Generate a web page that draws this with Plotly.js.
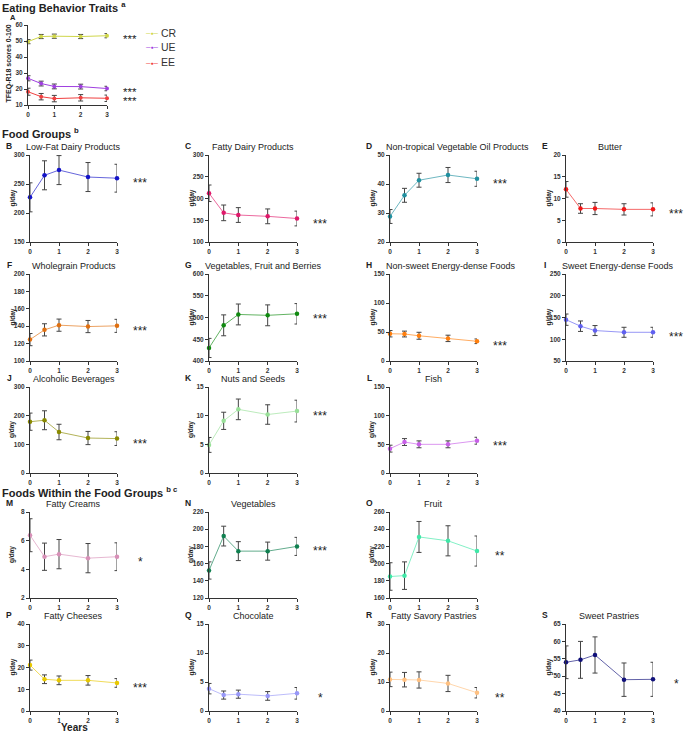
<!DOCTYPE html>
<html><head><meta charset="utf-8">
<script src="https://cdn.plot.ly/plotly-3.0.1.min.js"></script>
<style>html,body{margin:0;padding:0;background:#fff}</style>
</head><body><div id="chart" style="width:685px;height:733px"></div>
<script>
// ---------- DATA ----------
const years = [0, 0.5, 1, 2, 3];
const yearTicks = [0, 1, 2, 3];

// A: Eating behavior traits (TFEQ-R18 scores 0-100)
const traitNames = ['CR', 'UE', 'EE'];
const crMean = [49.6, 52.8, 53.0, 52.8, 53.3];
const crErr  = [1.3, 1.3, 1.3, 1.3, 1.3];
const ueMean = [26.7, 23.4, 21.6, 21.5, 20.3];
const ueErr  = [1.6, 1.5, 1.5, 1.5, 1.4];
const eeMean = [18.3, 15.2, 14.0, 14.5, 14.2];
const eeErr  = [2.2, 2.0, 2.0, 2.0, 2.0];

// Food groups (g/day)
const lowFatDairy = [227, 265, 274, 262, 260];
const lowFatDairyErr = [25, 25, 25, 25, 24];
const fattyDairy = [212, 167, 162, 159, 154];
const fattyDairyErr = [19, 18, 17, 17, 17];
const vegOil = [28.8, 36.1, 41.3, 43.1, 41.8];
const vegOilErr = [2.4, 2.4, 2.4, 2.6, 2.6];
const butter = [12.1, 7.7, 7.7, 7.5, 7.5];
const butterErr = [1.8, 1.1, 1.4, 1.3, 1.5];
const wholegrain = [124.6, 135.8, 141.2, 139.6, 140.4];
const wholegrainErr = [7, 7, 7, 7, 7.5];
const vegFruitBerries = [430, 482, 507, 505, 508.5];
const vegFruitBerriesErr = [22, 24, 24, 24, 23.5];
const nonSweetEnergy = [47, 46.5, 43.5, 39, 34];
const nonSweetEnergyErr = [5.5, 5, 6, 5.5, 4];
const sweetEnergy = [145, 130, 120, 116, 116];
const sweetEnergyErr = [13, 12, 11.5, 11.5, 11.5];
const alcohol = [179, 184, 143, 122, 120];
const alcoholErr = [30, 33, 27, 23, 24];
const nutsSeeds = [4.9, 9.1, 11.1, 10.2, 10.8];
const nutsSeedsErr = [1.3, 1.5, 1.8, 1.7, 1.9];
const fish = [42.5, 54, 50, 50, 56.3];
const fishErr = [6, 6, 6, 6, 6];

// Foods within the food groups (g/day)
const fattyCreams = [6.38, 4.88, 5.06, 4.78, 4.88];
const fattyCreamsErr = [1.15, 0.95, 1.02, 1.02, 0.97];
const vegetables = [152, 192, 174.5, 174.5, 180];
const vegetablesErr = [10, 11.5, 11, 10.5, 10.5];
const fruit = [185, 186, 231, 226.5, 214.6];
const fruitErr = [16, 16, 18, 17.5, 17.5];
const fattyCheeses = [21.1, 14.6, 14.1, 14.1, 12.9];
const fattyCheesesErr = [2.3, 2, 2, 2.2, 2];
const chocolate = [3.85, 2.75, 2.9, 2.6, 3.05];
const chocolateErr = [0.9, 0.7, 0.7, 0.75, 1.0];
const savoryPastries = [10.9, 10.8, 10.7, 9.5, 6.3];
const savoryPastriesErr = [2.5, 2.5, 2.8, 2.8, 1.8];
const sweetPastries = [54, 54.7, 56.1, 49, 49.1];
const sweetPastriesErr = [4.7, 5.3, 5.2, 4.8, 4.9];

// ---------- LAYOUT HELPERS ----------
const W = 685, H = 733;
const px = v => v / W;
const py = v => 1 - v / H;
const FONT = '"Liberation Sans", Arial, sans-serif';
const cols = [[30,117],[209,297],[390,477],[566,653]];
const rows = [[155,242],[274,361],[387,473],[512,598],[624,711]];

const panels = [
  {L:'B', t:'Low-Fat Dairy Products', y:lowFatDairy, e:lowFatDairyErr, c:'#1414c8', r:[150,300], d:50, s:'***', col:0, row:0},
  {L:'C', t:'Fatty Dairy Products', y:fattyDairy, e:fattyDairyErr, c:'#e0186a', r:[100,300], d:50, s:'***', col:1, row:0},
  {L:'D', t:'Non-tropical Vegetable Oil Products', y:vegOil, e:vegOilErr, c:'#2090a0', r:[20,50], d:10, s:'***', col:2, row:0},
  {L:'E', t:'Butter', y:butter, e:butterErr, c:'#f01818', r:[0,20], d:5, s:'***', col:3, row:0},
  {L:'F', t:'Wholegrain Products', y:wholegrain, e:wholegrainErr, c:'#e07010', r:[100,200], d:20, s:'***', col:0, row:1},
  {L:'G', t:'Vegetables, Fruit and Berries', y:vegFruitBerries, e:vegFruitBerriesErr, c:'#108a10', r:[400,600], d:50, s:'***', col:1, row:1},
  {L:'H', t:'Non-sweet Energy-dense Foods', y:nonSweetEnergy, e:nonSweetEnergyErr, c:'#ff7f0e', r:[0,150], d:50, s:'***', col:2, row:1},
  {L:'I', t:'Sweet Energy-dense Foods', y:sweetEnergy, e:sweetEnergyErr, c:'#6060f0', r:[50,250], d:50, s:'***', col:3, row:1},
  {L:'J', t:'Alcoholic Beverages', y:alcohol, e:alcoholErr, c:'#8a8a00', r:[0,300], d:100, s:'***', col:0, row:2},
  {L:'K', t:'Nuts and Seeds', y:nutsSeeds, e:nutsSeedsErr, c:'#98e098', r:[0,15], d:5, s:'***', col:1, row:2},
  {L:'L', t:'Fish', y:fish, e:fishErr, c:'#c860e8', r:[0,150], d:50, s:'***', col:2, row:2},
  {L:'M', t:'Fatty Creams', y:fattyCreams, e:fattyCreamsErr, c:'#d890b8', r:[2,8], d:2, s:'*', col:0, row:3},
  {L:'N', t:'Vegetables', y:vegetables, e:vegetablesErr, c:'#108050', r:[120,220], d:20, s:'***', col:1, row:3},
  {L:'O', t:'Fruit', y:fruit, e:fruitErr, c:'#40e8a8', r:[160,260], d:20, s:'**', col:2, row:3},
  {L:'P', t:'Fatty Cheeses', y:fattyCheeses, e:fattyCheesesErr, c:'#e8c800', r:[0,40], d:10, s:'***', col:0, row:4},
  {L:'Q', t:'Chocolate', y:chocolate, e:chocolateErr, c:'#9898f8', r:[0,15], d:5, s:'*', col:1, row:4},
  {L:'R', t:'Fatty Savory Pastries', y:savoryPastries, e:savoryPastriesErr, c:'#ffc080', r:[0,30], d:10, s:'**', col:2, row:4},
  {L:'S', t:'Sweet Pastries', y:sweetPastries, e:sweetPastriesErr, c:'#10107a', r:[40,65], d:5, s:'*', col:3, row:4}
];

const ctx = document.createElement('canvas').getContext('2d');
ctx.font = '9px "Liberation Sans"';
function titleCenter(l, r, text) {
  const w = ctx.measureText(text).width;
  return Math.max((l + r) / 2, l - 4 + w / 2);
}
function soft(hex, a) {
  const v = parseInt(hex.slice(1), 16);
  return 'rgba(' + ((v >> 16) & 255) + ',' + ((v >> 8) & 255) + ',' + (v & 255) + ',' + a + ')';
}

function axisPair(n, l, r, t, b, yr, dtick) {
  const tickfont = {family: FONT, size: 6.5, color: '#333', weight: 'bold'};
  const common = {ticks:'outside', ticklen:3, tickwidth:1, tickcolor:'#333', showline:true,
    linecolor:'#333', linewidth:1, showgrid:false, zeroline:false, tickfont, fixedrange:true};
  const sx = n === 1 ? '' : String(n);
  return {
    ['xaxis' + sx]: Object.assign({}, common, {domain:[px(l), px(r)], range:[0,3], tickvals:yearTicks,
      anchor:'y' + sx}),
    ['yaxis' + sx]: Object.assign({}, common, {domain:[py(b), py(t)], range:yr, tick0:yr[0], dtick:dtick,
      anchor:'x' + sx})
  };
}

const traces = [];
const annotations = [];
function note(o) {
  annotations.push(Object.assign({xref:'paper', yref:'paper', showarrow:false, xanchor:'center', yanchor:'middle'}, o));
}
const layout = {
  width: W, height: H, margin: {l:0, r:0, t:0, b:0},
  paper_bgcolor: '#fff', plot_bgcolor: '#fff',
  font: {family: FONT, color: '#222'},
  showlegend: false,
  annotations: annotations
};

function errSpec(arr) {
  return {type:'data', array:arr, visible:true, color:'#444', thickness:1, width:2.5};
}

// Panel A
Object.assign(layout, axisPair(1, 28, 107, 25, 105, [10, 60], 10));
const traitColors = ['#cfd64a', '#a040e0', '#f04040'];
const legendRows = [33, 47, 62];
[[crMean, crErr], [ueMean, ueErr], [eeMean, eeErr]].forEach((s, i) => {
  const col = traitColors[i];
  traces.push({x: years, y: s[0], name: traitNames[i], type:'scatter', mode:'lines+markers',
    xaxis:'x', yaxis:'y', line:{color:col, width:1}, marker:{color:col, size:4},
    error_y: errSpec(s[1]), cliponaxis:false});
  note({xref:'x', yref:'y', x:3, y:s[0][s[0].length - 1], xshift:23, yshift:-3, text:'***',
    font:{size:11.5, color:'#222'}});
  // legend key + label
  note({x:px(152), y:py(legendRows[i]),
    text:'<span style="font-size:8px">\u2013</span><span style="font-size:5px">\u25CF</span><span style="font-size:8px">\u2013</span>',
    font:{size:8, color:col}});
  note({x:px(159), y:py(legendRows[i]), xanchor:'left', text:traitNames[i], font:{size:10.5, color:'#333'}});
});
note({x:px(13), y:py(18), text:'A', font:{size:7.5, color:'#222', weight:'bold'}});
note({x:px(8.5), y:py(64), text:'TFEQ-R18 scores 0-100', textangle:-90,
  font:{size:7, color:'#222', weight:'bold'}});

// Section headers
[['Eating Behavior Traits <sup>a</sup>', 7], ['Food Groups <sup>b</sup>', 133], ['Foods Within the Food Groups <sup>b c</sup>', 492]]
  .forEach(h => note({x:px(0), y:py(h[1]), xanchor:'left', text:h[0], font:{size:11, color:'#222', weight:'bold'}}));

// Other panels
panels.forEach((p, i) => {
  const n = i + 2;
  const [l, r] = cols[p.col];
  const [t, b] = rows[p.row];
  Object.assign(layout, axisPair(n, l, r, t, b, p.r, p.d));
  traces.push({x: years, y: p.y, name: p.t, type:'scatter', mode:'lines+markers', xaxis:'x' + n, yaxis:'y' + n,
    line:{color:soft(p.c, 0.65), width:1}, marker:{color:p.c, size:4.5},
    error_y: errSpec(p.e), cliponaxis:false});
  note({xref:'x' + n, yref:'y' + n, x:3, y:p.y[p.y.length - 1], xshift:23, yshift:-5, text:p.s,
    font:{size:12, color:'#222'}});
  note({x:px(l - 21), y:py(t - 9), text:p.L, font:{size:8.5, color:'#222', weight:'bold'}});
  note({x:px(titleCenter(l, r, p.t)), y:py(t - 8), text:p.t, font:{size:9, color:'#222'}});
  note({x:px(l - 18), y:py((t + b) / 2), text:'g/day', textangle:-90,
    font:{size:6.5, color:'#222', weight:'bold'}});
});

note({x:px(74), y:py(727), text:'Years', font:{size:10, color:'#222', weight:'bold'}});

Plotly.newPlot('chart', traces, layout, {staticPlot:true, displayModeBar:false});
</script></body></html>
